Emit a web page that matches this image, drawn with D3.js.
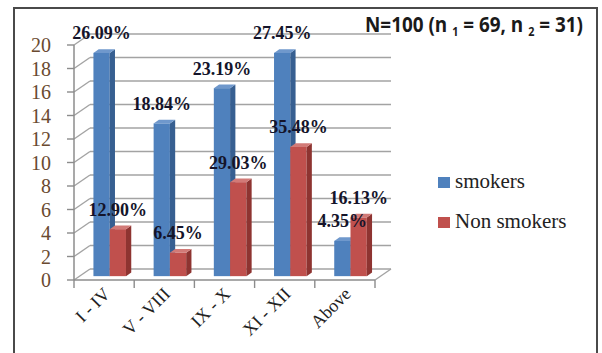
<!DOCTYPE html>
<html>
<head>
<meta charset="utf-8">
<script src="https://cdn.jsdelivr.net/npm/d3@7"></script>
<style>
  html, body { margin: 0; padding: 0; background: #fff; }
  svg { display: block; }
</style>
</head>
<body>
<svg id="chart" width="602" height="353"></svg>
<script>
// Education level groups and counts per group
const categories = ["I - IV", "V - VIII", "IX - X", "XI - XII", "Above"];
const seriesNames = ["smokers", "Non smokers"];
const smokers = [19, 13, 16, 19, 3];
const nonSmokers = [4, 2, 8, 11, 5];
const smokerLabels = ["26.09%", "18.84%", "23.19%", "27.45%", "4.35%"];
const nonSmokerLabels = ["12.90%", "6.45%", "29.03%", "35.48%", "16.13%"];
const yTicks = [0, 2, 4, 6, 8, 10, 12, 14, 16, 18, 20];

const svg = d3.select("#chart");

// colours: front, side, top faces
const palette = [
  { front: "#4f81bd", side: "#375f91", top: "#6f98cc" },
  { front: "#c0504d", side: "#8e3431", top: "#d27a77" }
];

// 3D depth offset of the plot (back wall relative to front edge)
const depthX = 16, depthY = -11;
const barD0 = 0.35, barD1 = 0.68;   // bar depth slab within the floor

const x = d3.scaleBand().domain(categories).range([74, 375]);
const xs = d3.scaleBand().domain(seriesNames).range([0, x.bandwidth()]).paddingOuter(0.85);
const y = d3.scaleLinear().domain([0, 20]).range([280, 45]);

// outer frame
svg.append("rect").attr("x", 14).attr("y", 8).attr("width", 583).attr("height", 360)
  .attr("fill", "none").attr("stroke", "#4a4a4a").attr("stroke-width", 2);

const grid = svg.append("g");
const wallLeft = x.range()[0] + depthX, wallRight = x.range()[1] + depthX;

// back-wall gridlines
grid.selectAll("line.g").data(yTicks).join("line")
  .attr("x1", wallLeft).attr("x2", wallRight)
  .attr("y1", d => y(d) + depthY).attr("y2", d => y(d) + depthY)
  .attr("stroke", "#a3a3a3").attr("stroke-width", 1.6);

// side-wall diagonals linking the axis ticks to the back wall
grid.selectAll("line.d").data(yTicks).join("line")
  .attr("x1", x.range()[0]).attr("x2", wallLeft)
  .attr("y1", d => y(d)).attr("y2", d => y(d) + depthY)
  .attr("stroke", "#a3a3a3").attr("stroke-width", 1.4);

// vertical value axis with tick marks
grid.append("line").attr("x1", x.range()[0]).attr("x2", x.range()[0])
  .attr("y1", y(0)).attr("y2", y(20)).attr("stroke", "#8c8c8c").attr("stroke-width", 1.5);
grid.selectAll("line.t").data(yTicks).join("line")
  .attr("x1", x.range()[0] - 7).attr("x2", x.range()[0])
  .attr("y1", d => y(d)).attr("y2", d => y(d))
  .attr("stroke", "#8c8c8c").attr("stroke-width", 1.4);

// floor front edge, right edge and category ticks
grid.append("line").attr("x1", x.range()[0]).attr("x2", x.range()[1])
  .attr("y1", y(0)).attr("y2", y(0)).attr("stroke", "#8c8c8c").attr("stroke-width", 1.5);
grid.append("line").attr("x1", x.range()[1]).attr("x2", wallRight)
  .attr("y1", y(0)).attr("y2", y(0) + depthY).attr("stroke", "#a3a3a3").attr("stroke-width", 1.4);
const boundaries = categories.map(c => x(c)).concat([x.range()[1]]);
grid.selectAll("line.xt").data(boundaries).join("line")
  .attr("x1", d => d).attr("x2", d => d)
  .attr("y1", y(0)).attr("y2", y(0) + 8)
  .attr("stroke", "#8c8c8c").attr("stroke-width", 1.4);

// value axis labels
svg.append("g").selectAll("text").data(yTicks).join("text")
  .attr("x", 51).attr("y", d => y(d)).attr("dy", "0.35em")
  .attr("text-anchor", "end")
  .attr("font-family", "'Liberation Serif', 'DejaVu Serif', serif")
  .attr("font-size", 20).attr("fill", "#6a4a30")
  .text(d => d);

// category labels, rotated
svg.append("g").selectAll("text").data(categories).join("text")
  .attr("transform", d => `translate(${x(d) + x.bandwidth() / 2 + 7},${y(0) + 15}) rotate(-45)`)
  .attr("text-anchor", "end")
  .attr("font-family", "'Liberation Serif', 'DejaVu Serif', serif")
  .attr("font-size", 18).attr("fill", "#222")
  .text(d => d);

// 3D bars
const seriesValues = [smokers, nonSmokers];
const seriesLabels = [smokerLabels, nonSmokerLabels];
const bars = svg.append("g");
const labelData = [];
categories.forEach((cat, ci) => {
  seriesNames.forEach((s, si) => {
    const v = seriesValues[si][ci];
    const w = xs.bandwidth();
    const x0 = x(cat) + xs(s) + depthX * barD0;
    const x1 = x0 + w;
    const ddx = depthX * (barD1 - barD0), ddy = depthY * (barD1 - barD0);
    const yb = y(0) + depthY * barD0;
    const yt = y(v) + depthY * barD0;
    const c = palette[si];
    bars.append("rect").attr("x", x0).attr("y", yt).attr("width", w).attr("height", yb - yt)
      .attr("fill", c.front);
    bars.append("path")
      .attr("d", `M${x1},${yt}L${x1 + ddx},${yt + ddy}L${x1 + ddx},${yb + ddy}L${x1},${yb}Z`)
      .attr("fill", c.side);
    bars.append("path")
      .attr("d", `M${x0},${yt}L${x1},${yt}L${x1 + ddx},${yt + ddy}L${x0 + ddx},${yt + ddy}Z`)
      .attr("fill", c.top);
    labelData.push({ x: x0 + w / 2, y: yt + ddy - 10, text: seriesLabels[si][ci] });
  });
});

// percentage labels
svg.append("g").selectAll("text").data(labelData).join("text")
  .attr("x", d => d.x).attr("y", d => d.y)
  .attr("text-anchor", "middle")
  .attr("font-family", "'Liberation Serif', 'DejaVu Serif', serif")
  .attr("font-weight", "bold").attr("font-size", 18).attr("fill", "#14142a")
  .text(d => d.text);

// legend
const legend = svg.append("g");
seriesNames.forEach((s, i) => {
  const ly = 182 + i * 40;
  legend.append("rect").attr("x", 438).attr("y", ly - 5).attr("width", 12).attr("height", 11)
    .attr("fill", palette[i].front);
  legend.append("text").attr("x", 455).attr("y", ly + 6)
    .attr("font-family", "'Liberation Serif', 'DejaVu Serif', serif")
    .attr("font-size", 21).attr("fill", "#222").text(s);
});

// sample-size title
const title = svg.append("text").attr("x", 0).attr("y", 0)
  .attr("font-family", "'Liberation Sans Narrow', 'Open Sans', 'Noto Sans', sans-serif")
  .attr("font-size", 21).attr("font-weight", "bold").attr("fill", "#1a1a1a");
title.append("tspan").text("N=100 (n ");
title.append("tspan").attr("font-size", 12).attr("dy", 4).text("1");
title.append("tspan").attr("dy", -4).text(" = 69, n ");
title.append("tspan").attr("font-size", 12).attr("dy", 4).text("2");
title.append("tspan").attr("dy", -4).text(" = 31)");
const tw = title.node().getComputedTextLength();
title.attr("transform", `translate(365,32) scale(${218 / tw},1)`);
</script>
</body>
</html>
